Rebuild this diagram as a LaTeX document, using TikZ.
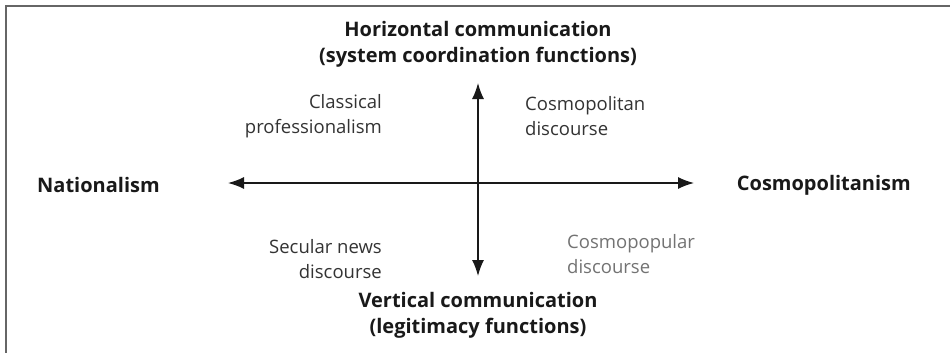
\documentclass[tikz,border=0pt]{standalone}
\usepackage{fontspec}
\setmainfont{Open Sans}
\usetikzlibrary{arrows.meta}
\begin{document}
\begin{tikzpicture}[x=1pt,y=-1pt,
  lbl/.style={font=\fontsize{18.5}{25}\selectfont, text=black!80, inner sep=0pt},
  ttl/.style={font=\fontsize{20}{26}\selectfont\bfseries, text=black!90, inner sep=0pt, align=center},
  axis/.style={line width=1.4pt, black!90, -{Latex[length=16pt,width=12pt]}},
  frame/.style={line width=2pt, black!60}]
\useasboundingbox (0,0) rectangle (950,353);
\draw[frame] (6,353) -- (6,6) -- (950,6);
\coordinate (c) at (478,183);
\coordinate (l) at (228,183);
\coordinate (r) at (694,183);
\coordinate (t) at (478,83);
\coordinate (b) at (478,276);
\draw[axis] (c) -- (l);
\draw[axis] (c) -- (r);
\draw[axis] (c) -- (t);
\draw[axis] (c) -- (b);
\node[ttl] (top) at (478,44) {Horizontal communication\\(system coordination functions)};
\node[ttl] (bot) at (478,315) {Vertical communication\\(legitimacy functions)};
\node[ttl, anchor=west] (nat) at (37,185) {Nationalism};
\node[ttl, anchor=east] (cos) at (911,185) {Cosmopolitanism};
\node[lbl, align=right, anchor=east] (cp) at (382,116) {Classical\\professionalism};
\node[lbl, align=left, anchor=west] (cd) at (525,116) {Cosmopolitan\\discourse};
\node[lbl, align=right, anchor=east] (sn) at (382,259) {Secular news\\discourse};
\node[lbl, align=left, anchor=west, text=black!55] (cpd) at (567,254) {Cosmopopular\\discourse};
\end{tikzpicture}
\end{document}
